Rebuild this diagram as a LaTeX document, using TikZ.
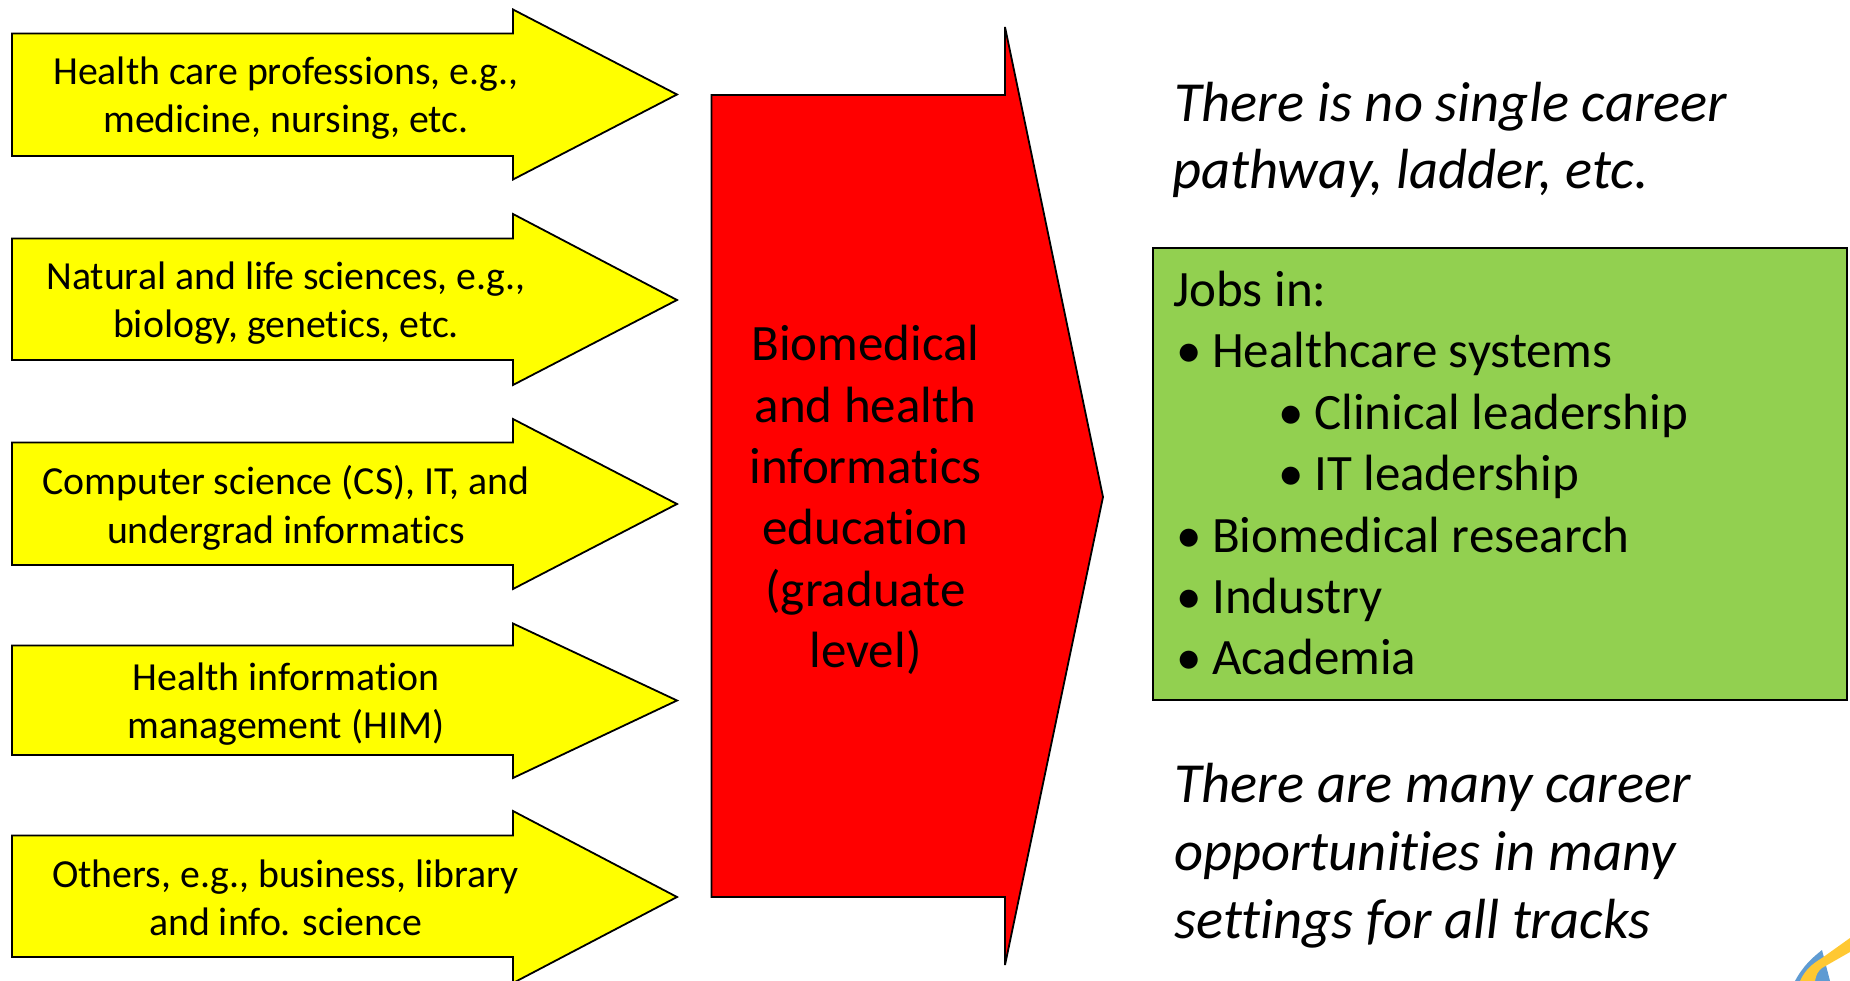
\documentclass[tikz,border=0pt]{standalone}
\usepackage{fontspec}
\setmainfont[Ligatures=NoCommon]{Carlito}
\definecolor{jobgreen}{HTML}{92D050}
\definecolor{srcyellow}{HTML}{FFFF00}
\definecolor{eduiered}{HTML}{FF0000}
\definecolor{logoyellow}{HTML}{FFC832}
\definecolor{logoblue}{HTML}{5F9BD2}
\tikzset{
  shapeline/.style={draw=black,line width=1.8pt,line join=miter,miter limit=4},
  srcarrow/.style={shapeline,fill=srcyellow},
  srctext/.style={align=center,inner sep=0pt,font=\fontsize{39.8}{48.5}\selectfont},
  redtext/.style={align=center,inner sep=0pt,font=\fontsize{51}{61.3}\selectfont},
  jobline/.style={anchor=base west,inner sep=0pt,font=\fontsize{51}{55}\selectfont},
  note/.style={anchor=base west,inner sep=0pt,font=\fontsize{56.6}{60}\selectfont\itshape},
}
\begin{document}
\begin{tikzpicture}[x=1pt,y=-1pt]
\useasboundingbox (0,0) rectangle (1850,981);
% logo corner
\fill[logoblue] (1795,981) .. controls (1803,966) and (1812,958) .. (1822,950) -- (1830,981) -- cycle;
\fill[logoyellow] (1850,938) -- (1850,952) -- (1822,968) .. controls (1818,971) and (1816,975) .. (1815,981) -- (1800,981) .. controls (1805,970) and (1812,964) .. (1822,958) -- cycle;
% yellow arrows
\draw[srcarrow] (12,33.5) -- (513,33.5) -- (513,9.5) -- (677,94.5) -- (513,179.5) -- (513,156) -- (12,156) -- cycle;
\draw[srcarrow] (12,238.5) -- (513,238.5) -- (513,214) -- (677,300) -- (513,385) -- (513,360) -- (12,360) -- cycle;
\draw[srcarrow] (12,442.5) -- (513,442.5) -- (513,419) -- (677,504) -- (513,589) -- (513,565) -- (12,565) -- cycle;
\draw[srcarrow] (12,645.5) -- (513,645.5) -- (513,623.5) -- (677,700.5) -- (513,778) -- (513,755) -- (12,755) -- cycle;
\draw[srcarrow] (12,835.5) -- (513,835.5) -- (513,811) -- (677,897) -- (513,983) -- (513,957) -- (12,957) -- cycle;
% red arrow
\draw[shapeline,fill=eduiered] (711.5,95) -- (1005,95) -- (1005,27) -- (1103,497) -- (1005,965) -- (1005,897) -- (711.5,897) -- cycle;
% green box
\draw[shapeline,fill=jobgreen] (1153,248) rectangle (1847,700);
% texts
\node[srctext] (s1) at (286,98) {Health care professions, e.g.,\\medicine, nursing, etc.};
\node[srctext] (s2) at (286,303) {Natural and life sciences, e.g.,\\biology, genetics, etc.};
\node[srctext] (s3) at (286,508) {Computer science (CS), IT, and\\undergrad informatics};
\node[srctext] (s4) at (286,704) {Health information\\management (HIM)};
\node[srctext] (s5) at (285.5,898) {Others, e.g., business, library\\and info. science};
\node[redtext] (edu) at (865.5,500) {Biomedical\\and health\\informatics\\education\\(graduate\\level)};
\node[note] (n1) at (1174,122) {There is no single career};
\node[note] (n2) at (1172,189) {pathway, ladder, etc.};
\node[note] (n3) at (1174,802) {There are many career};
\node[note] (n4) at (1174,870) {opportunities in many};
\node[note] (n5) at (1174,938) {settings for all tracks};
\node[jobline] (j0) at (1173,307) {Jobs in:};
\node[jobline] (b1) at (1176,368) {•};
\node[jobline] (j1) at (1212,368) {Healthcare systems};
\node[jobline] (b2) at (1278,429) {•};
\node[jobline] (j2) at (1314,429) {Clinical leadership};
\node[jobline] (b3) at (1278,490) {•};
\node[jobline] (j3) at (1314,490) {IT leadership};
\node[jobline] (b4) at (1176,552) {•};
\node[jobline] (j4) at (1212,552) {Biomedical research};
\node[jobline] (b5) at (1176,613) {•};
\node[jobline] (j5) at (1212,613) {Industry};
\node[jobline] (b6) at (1176,674) {•};
\node[jobline] (j6) at (1212,674) {Academia};
\end{tikzpicture}
\end{document}
